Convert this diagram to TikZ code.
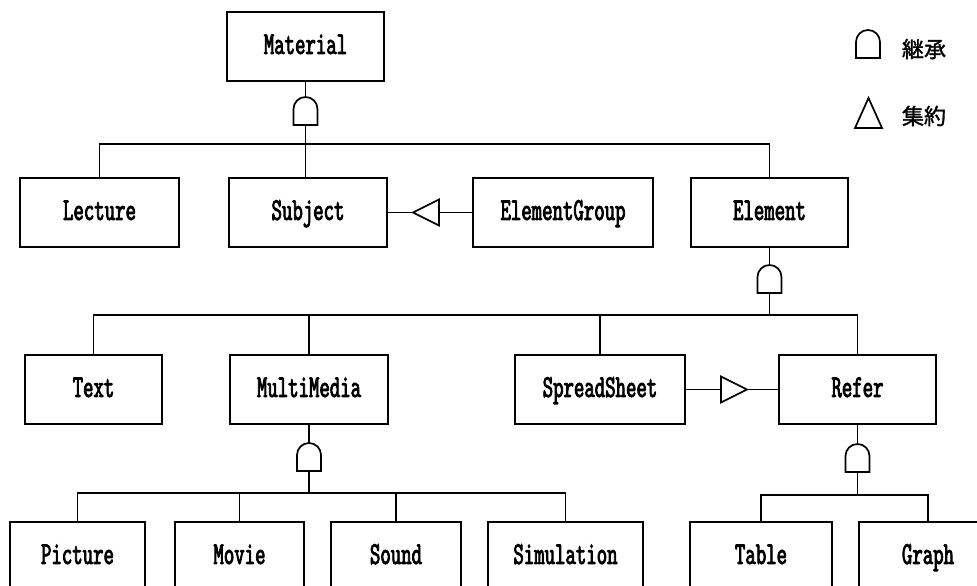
\documentclass[tikz,border=0pt]{standalone}
\usepackage{fontspec}
\usetikzlibrary{positioning}
\usetikzlibrary{calc}
\newfontfamily\clsfont[Extension=.otf,FakeStretch=0.62,FakeBold=2.5]{lmmono10-regular}
\newfontfamily\cjk[FakeBold=1.5]{Noto Sans CJK JP}

\begin{document}
\begin{tikzpicture}[x=1pt,y=1pt]
        \tikzstyle{cls}=[draw, line width=2pt, minimum height=69pt, inner sep=0pt, text height=20pt, text depth=5pt, font=\clsfont\fontsize{32}{36}\selectfont]
        \tikzstyle{link}=[line width=1.7pt]
        \tikzset{inh/.pic={\draw[line width=1.7pt,fill=white] (-12,0) -- (-12,16) arc[start angle=180,end angle=0,radius=12] -- (12,0) -- cycle;},
                 agg/.pic={\draw[line width=1.7pt,fill=white] (0,0) -- (-26,13) -- (-26,-13) -- cycle;}}
        \useasboundingbox (0,0) rectangle (977,586);
        \clip (0,0) rectangle (977,586);
        % classes
        \node[cls, minimum width=157pt] (material) at (305.5,539.5) {Material};
        \node[cls, minimum width=159pt] (lecture) at (99.5,373.5) {Lecture};
        \node[cls, minimum width=158pt, right=48pt of lecture] (subject) {Subject};
        \node[cls, minimum width=180pt, right=84pt of subject] (elementgroup) {ElementGroup};
        \node[cls, minimum width=157pt, right=36pt of elementgroup] (element) {Element};
        \node[cls, minimum width=137pt] (text) at (93.5,196.5) {Text};
        \node[cls, minimum width=158pt, right=66pt of text] (multimedia) {MultiMedia};
        \node[cls, minimum width=170pt, right=125pt of multimedia] (spreadsheet) {SpreadSheet};
        \node[cls, minimum width=157pt, right=92pt of spreadsheet] (refer) {Refer};
        \node[cls, minimum width=135pt] (picture) at (77.5,29.5) {Picture};
        \node[cls, minimum width=129pt, right=28pt of picture] (movie) {Movie};
        \node[cls, minimum width=130pt, right=25pt of movie] (sound) {Sound};
        \node[cls, minimum width=155pt, right=25pt of sound] (simulation) {Simulation};
        \node[cls, minimum width=142pt, right=45pt of simulation] (table) {Table};
        \node[cls, minimum width=138pt, right=25pt of table] (graph) {Graph};
        % inheritance
        \coordinate (bus1) at ($(material.south)+(0,-62)$);
        \draw[link] (material.south) -- (material.south |- subject.north);
        \draw[link] (lecture.north) |- (bus1) -| (element.north);
        \pic at ($(material.south)+(0,-43)$) {inh};
        \coordinate (bus2) at ($(element.south)+(0,-67)$);
        \draw[link] (element.south) -- (bus2);
        \draw[link] (text.north) |- (bus2) -| (refer.north);
        \draw[link] (multimedia.north) -- (multimedia.north |- bus2);
        \draw[link] (spreadsheet.north) -- (spreadsheet.north |- bus2);
        \pic at ($(element.south)+(0,-45)$) {inh};
        \coordinate (bus3) at ($(multimedia.south)+(0,-68)$);
        \draw[link] (multimedia.south) -- (bus3);
        \draw[link] (picture.north) |- (bus3) -| (simulation.north);
        \draw[link] (movie.north) -- (movie.north |- bus3);
        \draw[link] (sound.north) -- (sound.north |- bus3);
        \pic at ($(multimedia.south)+(0,-46)$) {inh};
        \coordinate (bus4) at ($(refer.south)+(0,-70)$);
        \draw[link] (refer.south) -- (bus4);
        \draw[link] (table.north) |- (bus4) -| (graph.north);
        \pic at ($(refer.south)+(0,-47)$) {inh};
        % aggregation
        \draw[link] (subject.east) -- (elementgroup.west);
        \pic[rotate=180] at ($(subject.east)+(25,0)$) {agg};
        \draw[link] (spreadsheet.east) -- (refer.west);
        \pic at ($(refer.west)+(-31,0)$) {agg};
        % legend
        \pic at (868,528) {inh};
        \node[font=\cjk\fontsize{22}{24}\selectfont] (inhlabel) at (924,537) {継承};
        \draw[link] (855,458) -- (882,458) -- (868.5,488) -- cycle;
        \node[font=\cjk\fontsize{22}{24}\selectfont] (agglabel) at (924,470) {集約};
      \end{tikzpicture}
\end{document}
